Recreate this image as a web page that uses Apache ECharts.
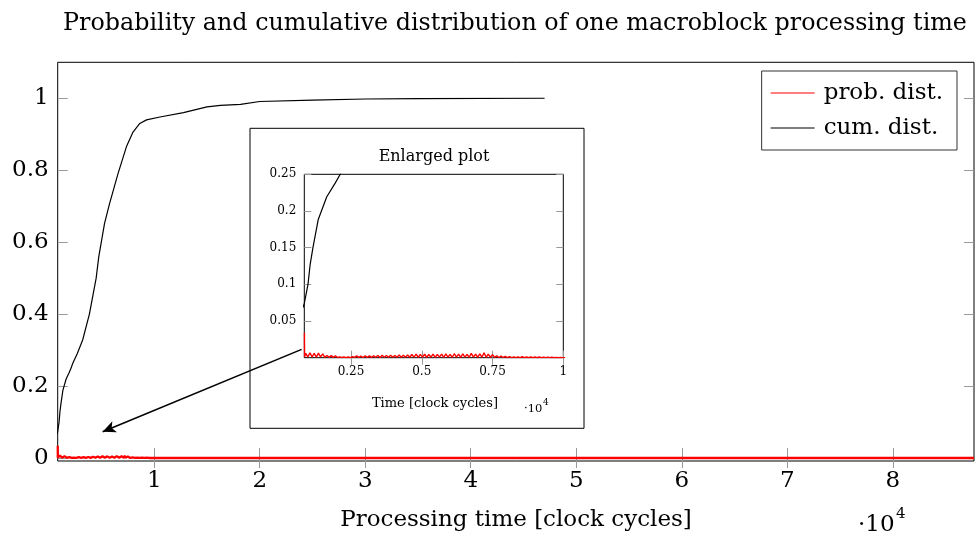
<!DOCTYPE html>
<html><head><meta charset="utf-8">
<script src="https://cdn.jsdelivr.net/npm/echarts@6/dist/echarts.min.js"></script>
<style>html,body{margin:0;padding:0;background:#fff}#c{width:978px;height:538px}</style>
</head><body><div id="c"></div><script>
// ---- text ----
const titleText = 'Probability and cumulative distribution of one macroblock processing time';
const xAxisName = 'Processing time [clock cycles]';
const insetTitle = 'Enlarged plot';
const insetXAxisName = 'Time [clock cycles]';
const scaleText = '\u00b710';
const scaleExp = '4';
const seriesNames = ['prob. dist.', 'cum. dist.'];

// ---- ticks ----
const mainXTicks = [10000, 20000, 30000, 40000, 50000, 60000, 70000, 80000];
const mainYTicks = [0, 0.2, 0.4, 0.6, 0.8, 1];
const insetXTicks = [2500, 5000, 7500, 10000];
const insetYTicks = [0.05, 0.1, 0.15, 0.2, 0.25];

// ---- data: [clock cycles, value] ----
const cumDist = [
  [800,0.068],[850,0.074],[920,0.088],[980,0.100],[1060,0.128],[1160,0.151],[1340,0.188],
  [1640,0.219],[1940,0.238],[2120,0.250],[2260,0.262],[2700,0.290],[3215,0.328],[3855,0.400],
  [4495,0.500],[4745,0.560],[5290,0.652],[5765,0.707],[6560,0.790],[7360,0.865],[7990,0.906],
  [8630,0.930],[9270,0.940],[10540,0.948],[12770,0.960],[15000,0.976],[16270,0.980],
  [18180,0.983],[20000,0.991],[25000,0.995],[30000,0.998],[35000,0.999],[47000,1.000]
];
const probDist = [
  [855,0.034],[860,0.001],[900,0.006],[975,0.001],[1050,0.0065],[1125,0.0012],[1200,0.0058],[1275,0.0009],[1350,0.0062],[1425,0.001],[1500,0.0052],
  [1575,0.0006],[1650,0.003],[1725,0.0005],[1800,0.0028],[1875,0.0004],[1950,0.0026],[2025,0.0003],
  [2100,0.0012],[2175,0.0002],[2250,0.0009],[2325,0.0001],[2400,0.0011],[2475,0.0002],[2550,0.0014],
  [2625,0.0004],[2700,0.0025],[2775,0.0004],[2850,0.0022],[2925,0.0003],[3000,0.0026],[3075,0.0005],[3150,0.0024],[3225,0.0004],[3300,0.0027],
  [3375,0.0005],[3450,0.003],[3525,0.0004],[3600,0.0032],[3675,0.0006],[3750,0.0029],[3825,0.0005],[3900,0.0034],
  [3975,0.0005],[4050,0.0031],[4125,0.0006],[4200,0.0036],[4275,0.0005],[4350,0.0033],[4425,0.0006],[4500,0.0038],
  [4575,0.0006],[4650,0.0044],[4725,0.0007],[4800,0.0049],[4875,0.0006],[4950,0.0045],[5025,0.0007],[5100,0.0047],
  [5175,0.0006],[5250,0.0043],[5325,0.0007],[5400,0.005],[5475,0.0006],[5550,0.0046],[5625,0.0007],
  [5700,0.0048],[5775,0.0006],[5850,0.0051],[5925,0.0007],[6000,0.0045],[6075,0.0006],[6150,0.0054],[6225,0.0007],
  [6300,0.0049],[6375,0.0006],[6450,0.0052],[6525,0.0007],[6600,0.0046],[6675,0.0006],[6750,0.0058],[6825,0.0007],
  [6900,0.0049],[6975,0.0006],[7050,0.0053],[7125,0.0007],[7200,0.0068],[7275,0.0006],[7350,0.005],[7425,0.0006],[7500,0.0042],
  [7575,0.0004],[7650,0.0026],[7725,0.0003],[7800,0.0021],[7875,0.0003],[7950,0.0018],[8025,0.0002],
  [8100,0.0014],[8175,0.0001],[8250,0.0012],[8325,0.0001],[8400,0.0011],[8475,0.0001],[8550,0.0013],[8625,0.0001],
  [8700,0.001],[8775,0.0001],[8850,0.0011],[8925,0.0001],[9000,0.0009],[9075,0.0001],[9150,0.001],[9225,0.0001],
  [9300,0.0007],[9375,0.0001],[9450,0.0008],[9525,0.0001],[9600,0.0006],[9675,0.0001],[9750,0.0005],[9825,0.0001],
  [9900,0.0004],[9975,0.0001],[11000,0.0001],[13000,0.0001],[16000,0],[20000,0],[30000,0],[50000,0],[70000,0],[87700,0]
];

// ---- annotation arrow (main-axis data coordinates) ----
const arrowFrom = [23972, 0.302];
const arrowTo = [5109, 0.073];

const FONT = 'DejaVu Serif';
const TICK = '#999';

function axisBase(extra) {
  return Object.assign({
    type: 'value',
    axisLine: { show: false },
    splitLine: { show: false },
  }, extra);
}

const chart = echarts.init(document.getElementById('c'), null, { renderer: 'canvas' });
chart.setOption({
  animation: false,
  backgroundColor: '#fff',
  grid: [
    { left: 57.7, top: 62.3, width: 916.3, height: 398.7, show: true, borderColor: '#000', borderWidth: 1, backgroundColor: 'transparent', containLabel: false, outerBoundsMode: 'none' },
    { left: 304.3, top: 174.3, width: 259, height: 183.4, show: true, borderColor: '#000', borderWidth: 1, backgroundColor: 'transparent', containLabel: false, outerBoundsMode: 'none' }
  ],
  xAxis: [
    axisBase({ gridIndex: 0, position: 'bottom', min: 850, max: 87700,
      axisTick: { show: true, inside: true, length: 10, customValues: mainXTicks, lineStyle: { color: TICK } },
      axisLabel: { show: true, customValues: mainXTicks, formatter: v => String(v / 10000), fontFamily: FONT, fontSize: 23, color: '#000', margin: 9 } }),
    axisBase({ gridIndex: 0, position: 'top', min: 850, max: 87700,
      axisTick: { show: true, inside: true, length: 10, customValues: mainXTicks, lineStyle: { color: TICK } },
      axisLabel: { show: false } }),
    axisBase({ gridIndex: 1, position: 'bottom', min: 850, max: 10000,
      axisTick: { show: true, inside: true, length: 7, customValues: insetXTicks, lineStyle: { color: TICK } },
      axisLabel: { show: true, customValues: insetXTicks, formatter: v => String(v / 10000), fontFamily: FONT, fontSize: 12, color: '#000', margin: 8 } }),
    axisBase({ gridIndex: 1, position: 'top', min: 850, max: 10000,
      axisTick: { show: true, inside: true, length: 7, customValues: insetXTicks, lineStyle: { color: TICK } },
      axisLabel: { show: false } })
  ],
  yAxis: [
    axisBase({ gridIndex: 0, position: 'left', min: -0.0083, max: 1.1,
      axisTick: { show: true, inside: true, length: 10, customValues: mainYTicks, lineStyle: { color: TICK } },
      axisLabel: { show: true, customValues: mainYTicks, formatter: v => String(v), fontFamily: FONT, fontSize: 23, color: '#000', margin: 9 } }),
    axisBase({ gridIndex: 0, position: 'right', min: -0.0083, max: 1.1,
      axisTick: { show: true, inside: true, length: 10, customValues: mainYTicks, lineStyle: { color: TICK } },
      axisLabel: { show: false } }),
    axisBase({ gridIndex: 1, position: 'left', min: 0, max: 0.25,
      axisTick: { show: true, inside: true, length: 7, customValues: insetYTicks, lineStyle: { color: TICK } },
      axisLabel: { show: true, customValues: insetYTicks, formatter: v => String(v), fontFamily: FONT, fontSize: 12, color: '#000', margin: 8 } }),
    axisBase({ gridIndex: 1, position: 'right', min: 0, max: 0.25,
      axisTick: { show: true, inside: true, length: 7, customValues: insetYTicks, lineStyle: { color: TICK } },
      axisLabel: { show: false } })
  ],
  legend: {
    data: seriesNames,
    orient: 'vertical',
    right: 21, top: 71,
    icon: 'rect', itemWidth: 44, itemHeight: 1.2, itemGap: 9,
    padding: [9, 14, 9, 9],
    borderColor: '#333', borderWidth: 1, backgroundColor: '#fff',
    textStyle: { fontFamily: FONT, fontSize: 23, color: '#000', lineHeight: 26, padding: [0, 0, 0, 4] },
    selectedMode: false
  },
  graphic: [
    { type: 'rect', z: -10, shape: { x: 250, y: 128.3, width: 334, height: 300 }, style: { fill: '#fff', stroke: '#000', lineWidth: 1 } },
    { type: 'text', x: 515, y: 24, style: { text: titleText, font: '23.8px "DejaVu Serif"', fill: '#000', textAlign: 'center', textVerticalAlign: 'middle' } },
    { type: 'text', x: 516, y: 520, style: { text: xAxisName, font: '23px "DejaVu Serif"', fill: '#000', textAlign: 'center', textVerticalAlign: 'middle' } },
    { type: 'text', x: 858, y: 525, style: { text: scaleText, font: '23px "DejaVu Serif"', fill: '#000', textAlign: 'left', textVerticalAlign: 'middle' } },
    { type: 'text', x: 896, y: 514, style: { text: scaleExp, font: '15px "DejaVu Serif"', fill: '#000', textAlign: 'left', textVerticalAlign: 'middle' } },
    { type: 'text', x: 434, y: 156.5, style: { text: insetTitle, font: '16px "DejaVu Serif"', fill: '#000', textAlign: 'center', textVerticalAlign: 'middle' } },
    { type: 'text', x: 435, y: 404, style: { text: insetXAxisName, font: '13px "DejaVu Serif"', fill: '#000', textAlign: 'center', textVerticalAlign: 'middle' } },
    { type: 'text', x: 524, y: 409, style: { text: scaleText, font: '11.5px "DejaVu Serif"', fill: '#000', textAlign: 'left', textVerticalAlign: 'middle' } },
    { type: 'text', x: 543, y: 403, style: { text: scaleExp, font: '9px "DejaVu Serif"', fill: '#000', textAlign: 'left', textVerticalAlign: 'middle' } }
  ],
  series: [
    { name: seriesNames[1], type: 'line', xAxisIndex: 0, yAxisIndex: 0, data: cumDist, showSymbol: false, color: '#000', lineStyle: { color: '#000', width: 1.2 }, z: 3,
      markLine: { silent: true, symbol: ['none', 'arrow'], symbolSize: [9, 13], label: { show: false }, lineStyle: { color: '#000', width: 1.6, type: 'solid' },
        data: [[{ coord: arrowFrom }, { coord: arrowTo }]] } },
    { name: seriesNames[0], type: 'line', xAxisIndex: 0, yAxisIndex: 0, data: probDist, showSymbol: false, color: '#f00', lineStyle: { color: '#f00', width: 2.3 }, z: 4 },
    { name: seriesNames[1], type: 'line', xAxisIndex: 2, yAxisIndex: 2, data: cumDist, showSymbol: false, color: '#000', lineStyle: { color: '#000', width: 1.2 }, z: 3, clip: true },
    { name: seriesNames[0], type: 'line', xAxisIndex: 2, yAxisIndex: 2, data: probDist, showSymbol: false, color: '#f00', lineStyle: { color: '#f00', width: 1.4 }, z: 4, clip: true }
  ]
});
</script></body></html>
